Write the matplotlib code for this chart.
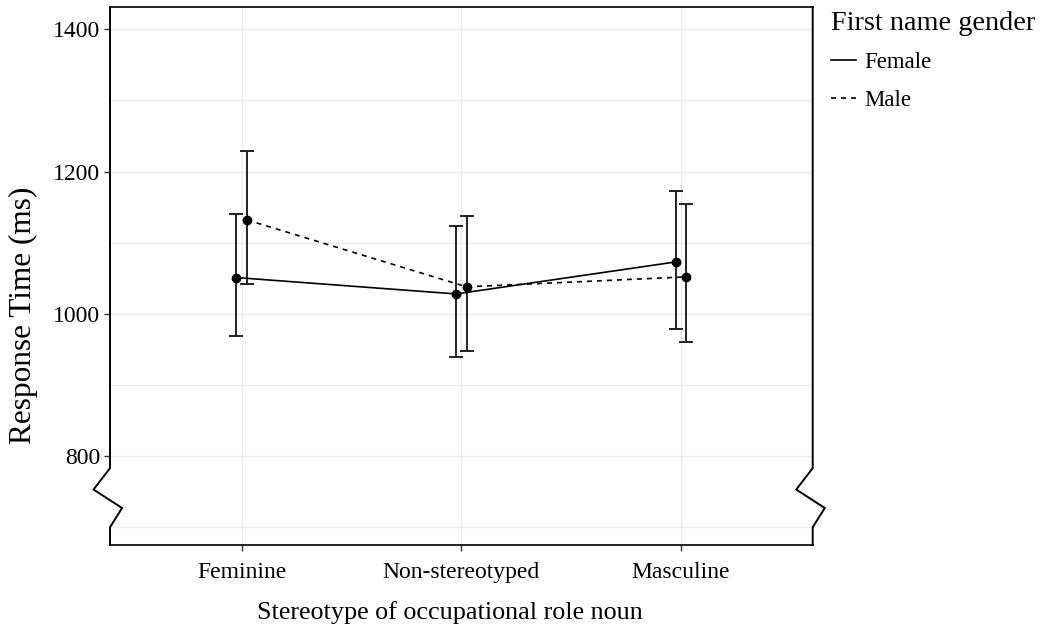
import matplotlib.pyplot as plt
import numpy as np

plt.rcParams['font.family'] = ['Liberation Serif', 'DejaVu Serif']

categories = ['Feminine', 'Non-stereotyped', 'Masculine']
female_mean = [1051, 1028, 1073]
female_lo = [969, 939, 979]
female_hi = [1140, 1124, 1173]
male_mean = [1132, 1038, 1052]
male_lo = [1042, 948, 961]
male_hi = [1229, 1138, 1154]

fig = plt.figure(figsize=(10.48, 6.30), dpi=100)
ax = fig.add_axes([110 / 1048, 85 / 630, 702.7 / 1048, 537.7 / 630])

x = np.arange(1, len(categories) + 1)
dodge = 0.024

xf = x - dodge
xm = x + dodge
fm = np.array(female_mean)
mm = np.array(male_mean)

ax.errorbar(xf, fm, yerr=[fm - np.array(female_lo), np.array(female_hi) - fm],
            fmt='none', ecolor='#222222', elinewidth=1.4, capsize=5, capthick=1.4, zorder=3)
ax.errorbar(xm, mm, yerr=[mm - np.array(male_lo), np.array(male_hi) - mm],
            fmt='none', ecolor='#222222', elinewidth=1.4, capsize=5, capthick=1.4, zorder=3)
ax.plot(xf, fm, color='black', lw=1.2, ls='-', label='Female', zorder=4)
ax.plot(xm, mm, color='black', lw=1.2, ls=(0, (3, 3)), label='Male', zorder=4)
ax.plot(xf, fm, 'o', color='black', ms=6, zorder=5)
ax.plot(xm, mm, 'o', color='black', ms=6, zorder=5)

ax.set_xlim(0.4, 3.6)
ax.set_ylim(675, 1431)
ax.set_xticks(x)
ax.set_xticklabels(categories)
ax.set_yticks([800, 1000, 1200, 1400])
ax.set_yticks([700, 900, 1100, 1300], minor=True)
ax.grid(True, which='both', color='#EBEBEB', lw=1.0, zorder=0)
ax.set_axisbelow(True)
ax.tick_params(axis='both', which='major', labelsize=17, length=4, width=1,
               color='#333333', labelcolor='black', pad=3)
ax.tick_params(axis='x', pad=8)
ax.tick_params(axis='y', which='minor', length=0)

ax.spines['left'].set_visible(False)
ax.spines['right'].set_visible(False)
ax.spines['top'].set_linewidth(1.2)
ax.spines['bottom'].set_linewidth(1.2)

# axis break zigzags on both sides
for x0 in [0.4, 3.6]:
    bx = [x0, x0, x0 - 0.075, x0 + 0.055, x0, x0]
    by = [1431, 783, 753, 727, 700, 675]
    ax.plot(bx, by, color='black', lw=1.4, clip_on=False, zorder=6,
            solid_joinstyle='miter')

ax.set_xlabel('Stereotype of occupational role noun', fontsize=18.8)
ax.xaxis.set_label_coords(0.484, -0.105)
ax.set_ylabel('Response Time (ms)', fontsize=22.5)
ax.yaxis.set_label_coords(-0.1025, 0.428)

leg = ax.legend(title='First name gender', loc='upper left',
                bbox_to_anchor=(810 / 1048, 1.016), bbox_transform=fig.transFigure,
                frameon=False, fontsize=16.5, title_fontsize=20.3, handlelength=1.1,
                handletextpad=0.35, labelspacing=0.72)
leg._legend_box.align = 'left'

fig.savefig('out.png', dpi=100)
